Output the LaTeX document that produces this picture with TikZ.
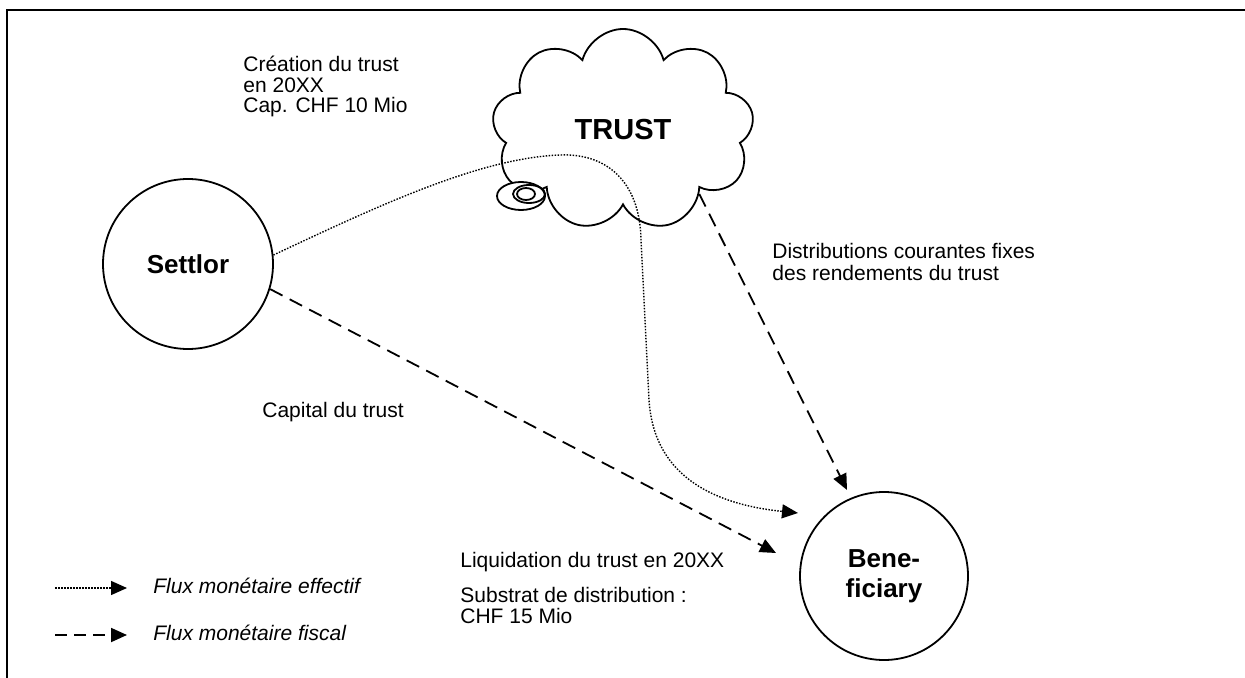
\documentclass[tikz,border=0pt]{standalone}
\usepackage{fontspec}
\setmainfont{Liberation Sans}
\usetikzlibrary{arrows.meta,positioning,shapes.symbols}

\begin{document}
\begin{tikzpicture}[x=0.5pt,y=-0.5pt,
    every node/.style={font=\fontsize{10.5}{10.3}\selectfont,inner sep=0pt},
    party/.style={circle,draw,line width=0.9pt,minimum size=85pt,align=center,
      font=\fontsize{13}{15}\selectfont\bfseries},
    note/.style={anchor=base west,align=left},
    effective/.style={line width=0.7pt,dash pattern=on 0.75pt off 0.75pt,
      -{Triangle[length=8pt,width=7pt]}},
    fiscal/.style={line width=0.9pt,dash pattern=on 7pt off 4pt,
      -{Triangle[length=8pt,width=7pt]}}]
  \useasboundingbox (0,0) rectangle (1245,678);
  \draw[line width=1pt] (7,678) |- (1245,10);

  % the three parties
  \node[party] (settlor) at (188,264) {Settlor};
  \node[party,minimum size=84pt] (benef) at (884,576) {Bene-\\ficiary};
  \node[cloud,draw,fill=white,line width=0.9pt,cloud puffs=9,aspect=1.3,
    minimum width=131pt,minimum height=101pt,
    font=\fontsize{14.5}{16}\selectfont\bfseries] (trust) at (623,130) {TRUST};
  % bubbles under the cloud
  \draw[line width=0.9pt,fill=white] (521,196) ellipse [x radius=24,y radius=14];
  \draw[line width=0.9pt] (529,194) ellipse [x radius=16,y radius=9];
  \draw[line width=0.9pt] (526,194) ellipse [x radius=9,y radius=6];

  % arrow ends
  \coordinate (effTip) at (798,513);
  \coordinate (fiscTip) at (776,553);
  \coordinate (distTip) at (847,490);

  % flows
  \draw[effective] (settlor.6) .. controls (380,205) and (480,158) .. (560,155)
    .. controls (605,153) and (640,180) .. (641,240) -- (649,400)
    .. controls (654,480) and (720,505) .. (effTip);
  \draw[fiscal] (settlor.-17) -- (fiscTip);
  \draw[fiscal] (trust.320) -- (distTip);

  % notes (base = last line)
  \node[note] (creation) at (243,113) {Création du trust\\en 20XX\\Cap. CHF 10 Mio};
  \node[note,font=\fontsize{10.5}{10.5}\selectfont] (distrib) at (772,280)
    {Distributions courantes fixes\\des rendements du trust};
  \node[note] (capital) at (262,417) {Capital du trust};
  \node[note] (liquid) at (460,623)
    {Liquidation du trust en 20XX\\[7pt]Substrat de distribution :\\CHF 15 Mio};

  % legend
  \coordinate (effA) at (55,588);
  \coordinate (effB) at (127,588);
  \coordinate (fiscA) at (55,635);
  \coordinate (fiscB) at (127,635);
  \draw[effective] (effA) -- (effB);
  \draw[fiscal,dash pattern=on 6pt off 3.5pt] (fiscA) -- (fiscB);
  \node[note,font=\fontsize{10.5}{10.3}\selectfont\itshape] (legEff) at (153,593) {Flux monétaire effectif};
  \node[note,font=\fontsize{10.5}{10.3}\selectfont\itshape] (legFisc) at (153,640) {Flux monétaire fiscal};
\end{tikzpicture}
\end{document}
